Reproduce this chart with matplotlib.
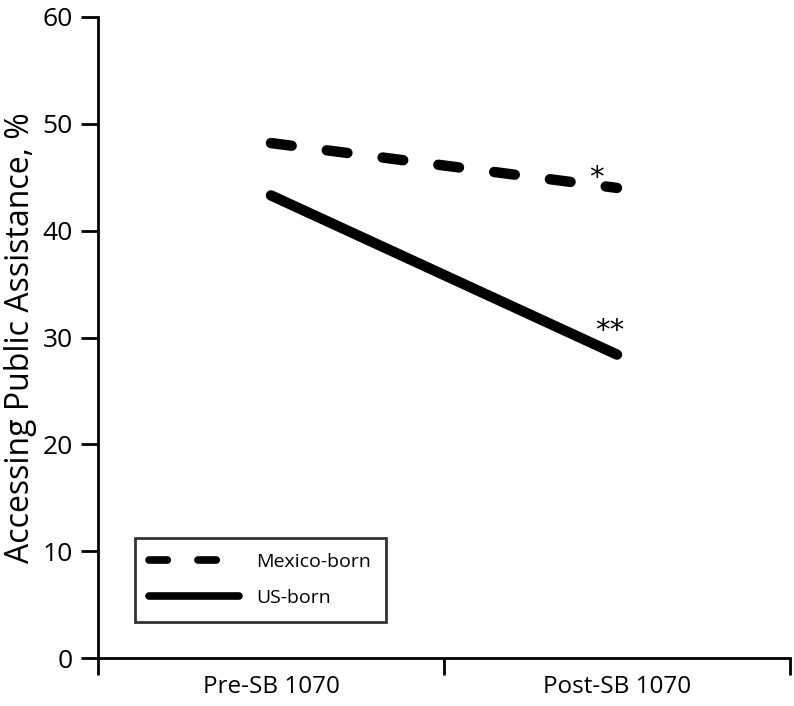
import matplotlib
matplotlib.use("Agg")
import matplotlib.pyplot as plt
from matplotlib.lines import Line2D

categories = ["Pre-SB 1070", "Post-SB 1070"]
mexico_born = [48.2, 44.0]
us_born = [43.3, 28.4]
y_ticks = [0, 10, 20, 30, 40, 50, 60]
series_labels = ["Mexico-born", "US-born"]
sig_marks = ["*", "**"]

plt.rcParams['font.family'] = ['Open Sans', 'DejaVu Sans']

fig = plt.figure(figsize=(7.94, 7.06), dpi=100)
ax = fig.add_axes([98/794, 1-658/706, (790-98)/794, (658-17)/706])

x = list(range(len(categories)))
lw = 7.5
l1, = ax.plot(x, mexico_born, color='black', lw=lw, solid_capstyle='round',
              dash_capstyle='round', dashes=(2.0, 3.4))
l2, = ax.plot(x, us_born, color='black', lw=lw, solid_capstyle='round')

ax.text(0.94, 44.2, sig_marks[0], fontsize=21, ha='center', va='baseline', family='DejaVu Sans')
ax.text(0.98, 29.9, sig_marks[1], fontsize=21, ha='center', va='baseline', family='DejaVu Sans')

ax.set_xlim(-0.5, 1.5)
ax.set_ylim(0, 60)
ax.set_yticks(y_ticks)
ax.set_yticklabels([str(v) for v in y_ticks], fontsize=19)
ax.set_xticks([-0.5, 0.5, 1.5])
ax.set_xticklabels([])
ax.set_xticks(x, minor=True)
ax.set_xticklabels(categories, minor=True, fontsize=17.5)
ax.tick_params(axis='x', which='minor', length=0, pad=12)
ax.tick_params(axis='both', which='major', length=12, width=2, direction='out')
ax.tick_params(axis='y', pad=6)
for s in ['top', 'right']:
    ax.spines[s].set_visible(False)
for s in ['left', 'bottom']:
    ax.spines[s].set_linewidth(2)
ax.set_ylabel("Accessing Public Assistance, %", fontsize=23, labelpad=4)

h1 = Line2D([], [], color='black', lw=5.5, dash_capstyle='round', dashes=(2.4, 4.0))
h2 = Line2D([], [], color='black', lw=5.5, solid_capstyle='round')
leg = ax.legend([h1, h2], series_labels, loc='upper left', bbox_to_anchor=(0.053, 0.187),
                fontsize=14, frameon=True, fancybox=False, edgecolor='black',
                handlelength=4.6, handletextpad=0.9, borderaxespad=0,
                labelspacing=0.95, borderpad=0.75)
leg.get_frame().set_linewidth(2)

fig.savefig("out.png", dpi=100)
